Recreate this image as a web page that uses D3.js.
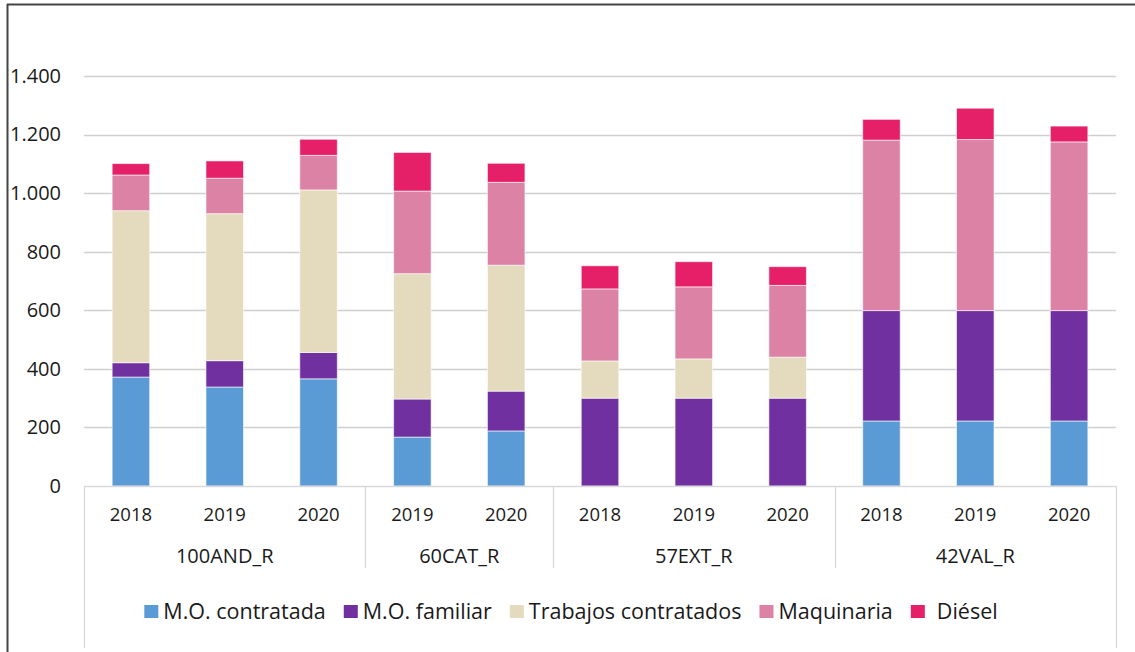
<!DOCTYPE html>
<meta charset="utf-8">
<script src="https://d3js.org/d3.v7.js"></script>
<style>
  body { margin: 0; background: #fff; }
  text { font-family: "Open Sans", "Noto Sans", sans-serif; fill: #1a1a1a; }
</style>
<div id="chart"></div>

<script>

// bars, left to right
var regions = ["100AND_R", "100AND_R", "100AND_R", "60CAT_R", "60CAT_R",
               "57EXT_R", "57EXT_R", "57EXT_R", "42VAL_R", "42VAL_R", "42VAL_R"];
var years   = ["2018", "2019", "2020", "2019", "2020",
               "2018", "2019", "2020", "2018", "2019", "2020"];

var series = ["M.O. contratada", "M.O. familiar", "Trabajos contratados", "Maquinaria", "Diésel"];
var colors = ["#5b9bd5", "#7030a0", "#e4dabd", "#dc82a4", "#e52068"];

var moContratada = [372, 338, 366, 167, 188,   0,   0,   0, 222, 222, 222];
var moFamiliar   = [ 49,  90,  90, 130, 136, 300, 300, 300, 377, 377, 377];
var trabajos     = [519, 502, 555, 428, 430, 127, 134, 140,   0,   0,   0];
var maquinaria   = [122, 121, 118, 282, 283, 246, 246, 245, 582, 584, 576];
var diesel       = [ 39,  59,  55, 132,  65,  79,  86,  64,  71, 107,  54];

var yTicks = [0, 200, 400, 600, 800, 1000, 1200, 1400];

var W = 1135, H = 652;
var margin = {top: 76, left: 84, right: 19, bottom: 166},
    width = W - margin.left - margin.right,
    height = H - margin.top - margin.bottom;

var svg = d3.select("#chart")
  .append("svg")
    .attr("width", W)
    .attr("height", H);

// outer frame
svg.append("line").attr("x1", 7).attr("x2", W).attr("y1", 4.5).attr("y2", 4.5)
  .attr("stroke", "#444").attr("stroke-width", 2);
svg.append("line").attr("x1", 7.5).attr("x2", 7.5).attr("y1", 4).attr("y2", H)
  .attr("stroke", "#444").attr("stroke-width", 2);

var g = svg.append("g")
  .attr("transform", "translate(" + margin.left + "," + margin.top + ")");

var rows = moContratada.map(function(d, i) {
  return {
    idx: i,
    "M.O. contratada": d,
    "M.O. familiar": moFamiliar[i],
    "Trabajos contratados": trabajos[i],
    "Maquinaria": maquinaria[i],
    "Diésel": diesel[i]
  };
});

var x = d3.scaleBand()
  .domain(d3.range(years.length))
  .range([0, width])
  .paddingInner(0.6)
  .paddingOuter(0.3);

var y = d3.scaleLinear()
  .domain([0, 1400])
  .range([height, 0]);

// gridlines
g.append("g")
  .selectAll("line")
  .data(yTicks.slice(1))
  .join("line")
    .attr("x1", 0).attr("x2", width)
    .attr("y1", function(d) { return Math.round(y(d)) + 0.5; })
    .attr("y2", function(d) { return Math.round(y(d)) + 0.5; })
    .attr("stroke", "#cfcfcf").attr("stroke-width", 1.3);

// y axis labels
var yAxis = g.append("g")
  .attr("transform", "translate(-20,0)")
  .call(d3.axisLeft(y).tickValues(yTicks).tickSize(0)
    .tickFormat(function(d) { return d3.format(",")(d).replace(",", "."); }));
yAxis.select(".domain").remove();
yAxis.selectAll("text").attr("font-size", 20).attr("dx", 0)
  .style("font-family", "'Open Sans', sans-serif").attr("fill", "#1a1a1a");

// stacked bars
var stack = d3.stack().keys(series);
var layers = stack(rows);

g.append("g")
  .selectAll("g")
  .data(layers)
  .join("g")
    .attr("fill", function(d, i) { return colors[i]; })
  .selectAll("rect")
  .data(function(d) { return d; })
  .join("rect")
    .attr("x", function(d, i) { return x(i); })
    .attr("y", function(d) { return y(d[1]); })
    .attr("width", x.bandwidth())
    .attr("height", function(d) { return y(d[0]) - y(d[1]); })
    .attr("stroke", "#fff")
    .attr("stroke-opacity", 0.6)
    .attr("stroke-width", function(d) { return d[1] > d[0] ? 1 : 0; });

// baseline
g.append("line")
  .attr("x1", 0).attr("x2", width)
  .attr("y1", height + 0.5).attr("y2", height + 0.5)
  .attr("stroke", "#d9d9d9").attr("stroke-width", 1.3);

// year labels
var step = x.step();
g.append("g")
  .selectAll("text")
  .data(years)
  .join("text")
    .attr("x", function(d, i) { return x(i) + x.bandwidth() / 2; })
    .attr("y", height + 35)
    .attr("text-anchor", "middle")
    .attr("font-size", 18.5)
    .text(function(d) { return d; });

// region groups
var groups = [];
regions.forEach(function(r, i) {
  var last = groups[groups.length - 1];
  if (last && last.name === r) last.end = i;
  else groups.push({name: r, start: i, end: i});
});

function edge(i) { return i * step; }

g.append("g")
  .selectAll("text")
  .data(groups)
  .join("text")
    .attr("x", function(d) { return (edge(d.start) + edge(d.end + 1)) / 2; })
    .attr("y", height + 77)
    .attr("text-anchor", "middle")
    .attr("font-size", 20)
    .text(function(d) { return d.name; });

// separators
var seps = groups.map(function(d) { return d.start; }).concat([years.length]);
g.append("g")
  .selectAll("line")
  .data(seps)
  .join("line")
    .attr("x1", function(d) { return Math.round(edge(d)) + 0.5; })
    .attr("x2", function(d) { return Math.round(edge(d)) + 0.5; })
    .attr("y1", height)
    .attr("y2", function(d, i) { return (i === 0 || i === seps.length - 1) ? H - margin.top - 4 : height + 82; })
    .attr("stroke", "#d9d9d9").attr("stroke-width", 1.3);

// legend
var legend = svg.append("g").attr("transform", "translate(0,618)");
var items = legend.selectAll("g")
  .data(series)
  .join("g");
items.append("rect")
  .attr("y", -13)
  .attr("width", 14).attr("height", 13)
  .attr("fill", function(d, i) { return colors[i]; });
items.append("text")
  .attr("x", function(d, i) { return i === 4 ? 26 : 19; })
  .attr("y", 1)
  .attr("font-size", 21.5)
  .text(function(d) { return d; });

var pos = 0;
var offsets = [];
items.each(function(d, i) {
  offsets.push(pos);
  var tw = d3.select(this).select("text").node().getComputedTextLength();
  pos += (i === 4 ? 26 : 19) + tw + 18;
});
var totalW = pos - 18;
var startX = 571 - totalW / 2;
items.attr("transform", function(d, i) { return "translate(" + (startX + offsets[i]) + ",0)"; });

</script>
